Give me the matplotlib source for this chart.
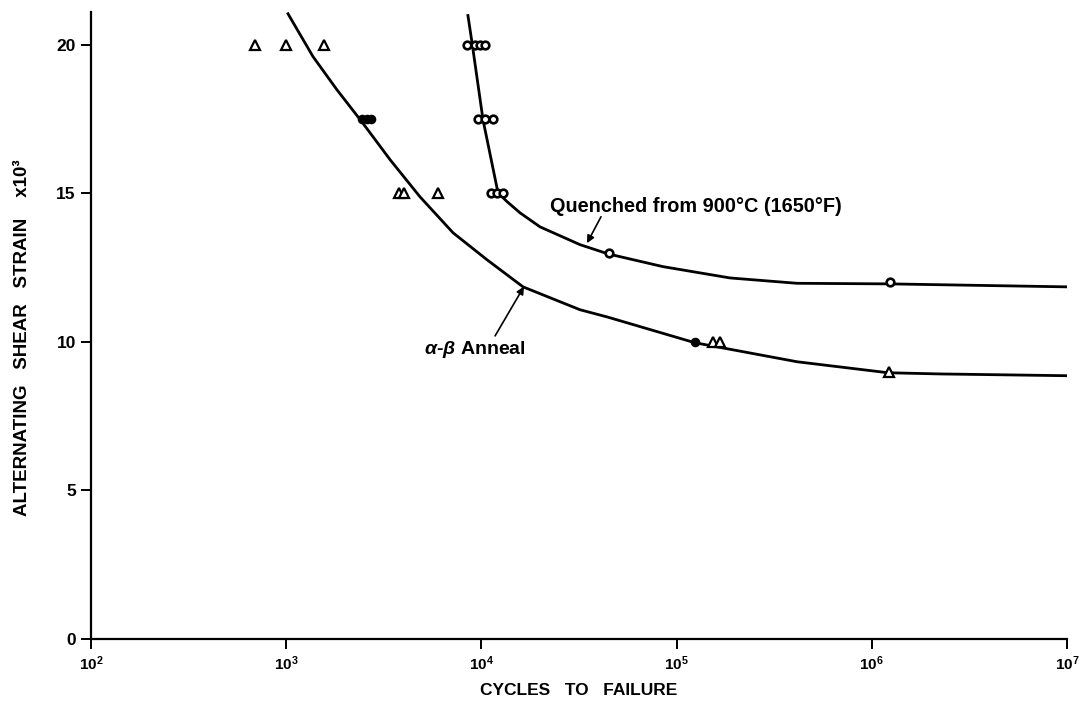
import numpy as np
import matplotlib
matplotlib.use("Agg")
import matplotlib.pyplot as plt

# (cycles vs alternating shear strain x10^3)
anneal_curve_n = [1021, 1371, 1820, 2443, 3404, 4845, 7155, 10690, 16340, 32000, 43950,
                  124100, 414000, 1210000, 2230000, 10000000]
anneal_curve_s = [21.04, 19.60, 18.48, 17.40, 16.13, 14.88, 13.67, 12.76, 11.85, 11.08, 10.84,
                  9.97, 9.33, 8.96, 8.92, 8.86]

quench_curve_n = [8530, 8950, 10190, 12160, 13520, 15780, 19950, 32000, 44540, 85200, 187800,
                  414000, 1240000, 10000000]
quench_curve_s = [20.98, 20.07, 17.47, 15.02, 14.72, 14.34, 13.87, 13.27, 12.96, 12.53, 12.15,
                  11.97, 11.95, 11.85]

anneal_tri_n = [692, 1000, 1563, 3786, 4010, 5997, 153000, 167000, 1220000]
anneal_tri_s = [20, 20, 20, 15, 15, 15, 10, 10, 9.0]
anneal_dot_n = [2443, 2595, 2718, 124000]
anneal_dot_s = [17.5, 17.5, 17.5, 10]

quench_n = [8435, 9264, 9841, 10420, 9620, 10420, 11460, 11200, 12020, 12900, 45080, 1240000]
quench_s = [20, 20, 20, 20, 17.5, 17.5, 17.5, 15, 15, 15, 13, 12]

xticks = [1e2, 1e3, 1e4, 1e5, 1e6, 1e7]
xticklabels = [r"$\mathbf{10^{%d}}$" % k for k in range(2, 8)]
yticks = [0, 5, 10, 15, 20]

plt.rcParams['font.family'] = ['Liberation Sans', 'DejaVu Sans']
plt.rcParams['mathtext.fontset'] = 'custom'
plt.rcParams['mathtext.bf'] = 'Liberation Sans:bold'
plt.rcParams['mathtext.rm'] = 'Liberation Sans'
plt.rcParams['mathtext.it'] = 'Liberation Sans:bold:italic'

fig = plt.figure(figsize=(10.85, 7.04), dpi=100)
ax = fig.add_axes([0.0839, 0.0923, 0.8995, 0.8907])

ax.plot(anneal_curve_n, anneal_curve_s, color="black", lw=2.0, solid_joinstyle="round")
ax.plot(quench_curve_n, quench_curve_s, color="black", lw=2.0, solid_joinstyle="round")

ax.plot(anneal_tri_n, anneal_tri_s, ls="none", marker="^", ms=6.5, mfc="white", mec="black", mew=1.6)
ax.plot(anneal_dot_n, anneal_dot_s, ls="none", marker="o", ms=5.5, mfc="black", mec="black", mew=1.4)
ax.plot(quench_n, quench_s, ls="none", marker="o", ms=5.5, mfc="white", mec="black", mew=1.9)

ax.set_xscale("log")
ax.set_xlim(1e2, 1e7)
ax.set_ylim(0, 21.1)
ax.set_xticks(xticks)
ax.set_xticklabels(xticklabels, fontsize=11)
ax.minorticks_off()
ax.set_yticks(yticks)
ax.set_yticklabels([str(v) for v in yticks], fontsize=12.5, fontweight="bold")
ax.tick_params(axis="both", direction="out", length=7, width=1.4, pad=4)

for s in ["top", "right"]:
    ax.spines[s].set_visible(False)
for s in ["left", "bottom"]:
    ax.spines[s].set_linewidth(1.6)

ax.set_xlabel("CYCLES   TO   FAILURE", fontsize=12.5, fontweight="bold", labelpad=7)
fig.text(0.021, 0.521, "ALTERNATING   SHEAR   STRAIN    x10³", rotation=90,
         fontsize=13.5, fontweight="bold", ha="center", va="center")

# curve annotations
ax.text(22440, 14.55, "Quenched from 900°C (1650°F)", fontsize=14.3, fontweight="bold",
        ha="left", va="center")
ax.annotate("", xy=(34750, 13.32), xytext=(41000, 14.21),
            arrowprops=dict(arrowstyle="-|>", color="black", lw=1.2, mutation_scale=11,
                            shrinkA=0, shrinkB=0))
ax.text(5080, 9.73, r"$\alpha$-$\beta$ Anneal", fontsize=14, fontweight="bold",
        ha="left", va="center")
ax.annotate("", xy=(16520, 11.86), xytext=(11750, 10.20),
            arrowprops=dict(arrowstyle="-|>", color="black", lw=1.2, mutation_scale=11,
                            shrinkA=0, shrinkB=0))

fig.savefig("out.png", dpi=100, facecolor="white")
